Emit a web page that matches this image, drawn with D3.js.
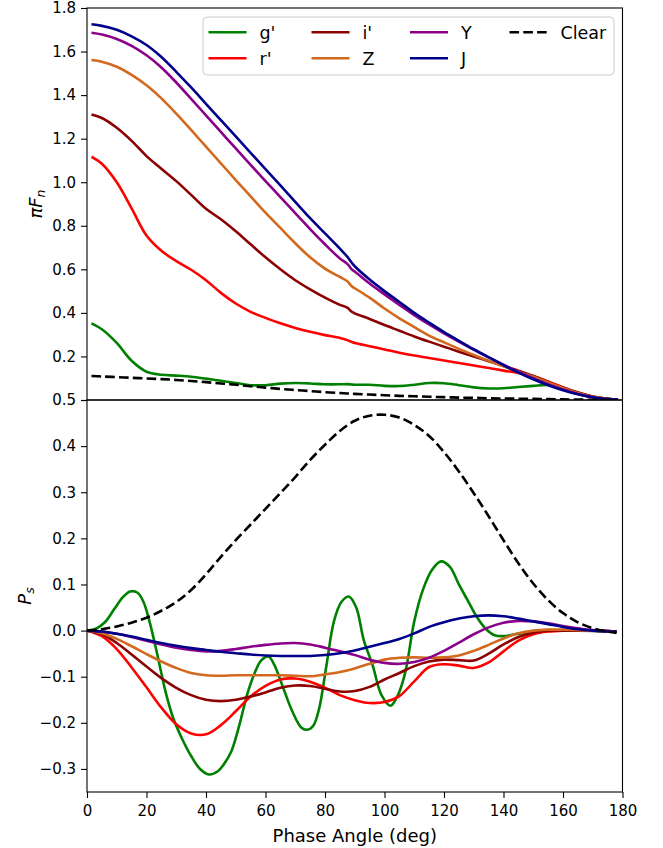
<!DOCTYPE html>
<html>
<head>
<meta charset="utf-8">
<script src="https://cdn.jsdelivr.net/npm/d3@7"></script>
<style>
  body { margin: 0; background: #fff; }
  text { font-family: "DejaVu Sans", sans-serif; fill: #000; }
</style>
</head>
<body>
<script>
// ---- data ----
const topPhase = [1.5,5,10,15,20,25,30,35,40,45,50,55,60,65,70,75,80,85,87.5,89,90,95,100,105,110,115,120,125,130,135,140,145,150,155,160,165,170,175,178.5];
const topG = [0.352,0.325,0.262,0.18,0.13,0.116,0.112,0.107,0.098,0.088,0.078,0.068,0.068,0.075,0.078,0.076,0.072,0.072,0.073,0.071,0.07,0.07,0.065,0.064,0.07,0.078,0.077,0.068,0.058,0.053,0.054,0.06,0.065,0.069,0.055,0.033,0.015,0.005,0.001];
const topR = [1.117,1.085,1.0,0.88,0.755,0.685,0.638,0.598,0.55,0.492,0.443,0.405,0.377,0.352,0.331,0.313,0.298,0.285,0.275,0.266,0.262,0.247,0.232,0.217,0.204,0.193,0.181,0.17,0.158,0.147,0.135,0.124,0.11,0.085,0.058,0.034,0.015,0.005,0.001];
const topI = [1.311,1.295,1.25,1.19,1.12,1.062,1.005,0.942,0.878,0.83,0.775,0.715,0.655,0.6,0.55,0.508,0.47,0.437,0.424,0.405,0.398,0.372,0.344,0.318,0.292,0.268,0.245,0.222,0.2,0.178,0.156,0.134,0.11,0.083,0.057,0.034,0.016,0.005,0.001];
const topZ = [1.561,1.553,1.53,1.493,1.445,1.385,1.315,1.24,1.163,1.087,1.01,0.935,0.86,0.79,0.72,0.655,0.603,0.565,0.545,0.522,0.513,0.47,0.42,0.375,0.335,0.296,0.265,0.235,0.207,0.18,0.155,0.13,0.107,0.08,0.055,0.032,0.015,0.005,0.001];
const topY = [1.686,1.678,1.658,1.626,1.583,1.527,1.458,1.383,1.307,1.231,1.155,1.08,1.005,0.932,0.858,0.785,0.715,0.65,0.625,0.6,0.59,0.535,0.485,0.437,0.39,0.347,0.306,0.268,0.231,0.196,0.162,0.13,0.1,0.072,0.048,0.028,0.013,0.004,0.001];
const topJ = [1.725,1.718,1.7,1.67,1.63,1.575,1.507,1.435,1.36,1.285,1.21,1.135,1.06,0.985,0.91,0.835,0.765,0.695,0.658,0.63,0.614,0.553,0.5,0.45,0.4,0.355,0.312,0.272,0.233,0.196,0.16,0.126,0.095,0.068,0.045,0.026,0.012,0.004,0.001];
const topClear = [0.11,0.108,0.105,0.102,0.099,0.096,0.092,0.087,0.082,0.076,0.07,0.063,0.057,0.051,0.046,0.041,0.036,0.032,0.03,0.029,0.028,0.025,0.022,0.019,0.017,0.015,0.013,0.011,0.01,0.008,0.007,0.006,0.005,0.004,0.003,0.002,0.001,0,0];

const botPhase = [0,5,10,15,20,25,30,35,40,45,50,55,60,65,70,75,80,85,90,95,100,105,110,115,120,125,130,135,140,145,150,155,160,165,170,175,178];
const botR = [0,-0.012,-0.04,-0.08,-0.123,-0.167,-0.203,-0.223,-0.225,-0.205,-0.175,-0.143,-0.12,-0.106,-0.104,-0.111,-0.124,-0.14,-0.151,-0.157,-0.155,-0.142,-0.11,-0.079,-0.073,-0.076,-0.081,-0.069,-0.045,-0.022,-0.008,-0.002,0,0,0,-0.001,-0.002];
const botI = [0,-0.008,-0.027,-0.052,-0.078,-0.103,-0.124,-0.14,-0.15,-0.153,-0.15,-0.143,-0.134,-0.124,-0.119,-0.12,-0.126,-0.132,-0.131,-0.122,-0.106,-0.092,-0.077,-0.067,-0.063,-0.064,-0.065,-0.05,-0.03,-0.014,-0.004,0,0,0,0,-0.001,-0.002];
const botZ = [0,-0.006,-0.018,-0.034,-0.051,-0.067,-0.081,-0.092,-0.097,-0.098,-0.097,-0.097,-0.097,-0.097,-0.098,-0.099,-0.095,-0.09,-0.082,-0.072,-0.063,-0.059,-0.058,-0.059,-0.058,-0.054,-0.044,-0.031,-0.017,-0.006,0,0.002,0.002,0.001,0,-0.001,-0.002];
const botY = [0,-0.002,-0.007,-0.014,-0.022,-0.03,-0.037,-0.042,-0.045,-0.044,-0.04,-0.035,-0.031,-0.028,-0.027,-0.03,-0.037,-0.045,-0.053,-0.063,-0.07,-0.072,-0.068,-0.059,-0.044,-0.026,-0.008,0.007,0.017,0.021,0.02,0.016,0.01,0.005,0.001,-0.001,-0.002];
const botJ = [0,-0.002,-0.007,-0.013,-0.02,-0.027,-0.033,-0.038,-0.042,-0.046,-0.049,-0.052,-0.054,-0.055,-0.055,-0.055,-0.053,-0.049,-0.043,-0.035,-0.027,-0.018,-0.006,0.008,0.018,0.026,0.031,0.033,0.031,0.026,0.02,0.014,0.008,0.003,0,-0.002,-0.002];
const botClear = [0,0.003,0.009,0.017,0.028,0.043,0.062,0.088,0.122,0.16,0.196,0.23,0.264,0.298,0.333,0.37,0.403,0.433,0.455,0.466,0.468,0.462,0.446,0.422,0.387,0.345,0.298,0.248,0.196,0.146,0.102,0.066,0.038,0.018,0.005,-0.002,-0.005];

// g' oscillates fast, so it gets its own phase grid
const botGPhase = [0,3,6,9,12,14.5,17,19,21,23.5,26.5,29,32,35,38,41,44,46,48.5,51,54,56.5,58.5,61,63,66,69,72,74,76,78,80.5,83,85.5,88,90.5,93,96,99,102,104.5,107,110,113,116,119,122,125,128,131,134,137,140,144,148,155,165,178];
const botG = [0,0.004,0.018,0.045,0.072,0.085,0.082,0.062,0.02,-0.048,-0.135,-0.19,-0.235,-0.272,-0.3,-0.312,-0.305,-0.29,-0.262,-0.21,-0.135,-0.09,-0.065,-0.056,-0.075,-0.125,-0.175,-0.21,-0.215,-0.207,-0.17,-0.075,0.02,0.062,0.074,0.05,-0.02,-0.075,-0.14,-0.163,-0.14,-0.09,0.02,0.09,0.132,0.15,0.138,0.1,0.065,0.03,0.004,-0.01,-0.012,-0.008,-0.004,0,0,-0.002];

const bandNames = ["g'", "r'", "i'", "Z", "Y", "J", "Clear"];
const bandColors = ["#008000", "#ff0000", "#8b0000", "#d2691e", "#8b008b", "#00008b", "#000000"];

const topTicks = [0, 0.2, 0.4, 0.6, 0.8, 1.0, 1.2, 1.4, 1.6, 1.8];
const botTicks = [-0.3, -0.2, -0.1, 0.0, 0.1, 0.2, 0.3, 0.4, 0.5];
const xTicks = [0, 20, 40, 60, 80, 100, 120, 140, 160, 180];

// ---- layout ----
const W = 663, H = 848;
const plotLeft = 87, plotRight = 622.5, plotTop = 8, plotMid = 400, plotBottom = 792;

const svg = d3.select("body").append("svg").attr("width", W).attr("height", H);

const x = d3.scaleLinear().domain([0, 180]).range([plotLeft, plotRight]);
const yTop = d3.scaleLinear().domain([0, 1.8]).range([plotMid, plotTop]);
const yBot = d3.scaleLinear().domain([-0.35, 0.5]).range([plotBottom, plotMid]);

const defs = svg.append("defs");
defs.append("clipPath").attr("id", "clipTop").append("rect")
    .attr("x", plotLeft).attr("y", plotTop).attr("width", plotRight - plotLeft).attr("height", plotMid - plotTop);
defs.append("clipPath").attr("id", "clipBot").append("rect")
    .attr("x", plotLeft).attr("y", plotMid).attr("width", plotRight - plotLeft).attr("height", plotBottom - plotMid);

const drawSeries = (g, phase, values, y, color, dashed) => {
    const line = d3.line()
        .x((d, i) => x(phase[i]))
        .y(d => y(d))
        .curve(d3.curveCatmullRom.alpha(0.5));
    g.append("path")
        .attr("d", line(values))
        .attr("fill", "none")
        .attr("stroke", color)
        .attr("stroke-width", 2.6)
        .attr("stroke-dasharray", dashed ? "9.6,4.2" : null);
};

// top panel
const gTop = svg.append("g").attr("clip-path", "url(#clipTop)");
const topSeries = [topG, topR, topI, topZ, topY, topJ, topClear];
topSeries.forEach((vals, k) => drawSeries(gTop, topPhase, vals, yTop, bandColors[k], k === 6));

// bottom panel
const gBot = svg.append("g").attr("clip-path", "url(#clipBot)");
const botSeries = [botG, botR, botI, botZ, botY, botJ, botClear];
botSeries.forEach((vals, k) => {
    const phase = k === 0 ? botGPhase : botPhase;
    drawSeries(gBot, phase, vals, yBot, bandColors[k], k === 6);
});

// frames
[[plotTop, plotMid], [plotMid, plotBottom]].forEach(([a, b]) => {
    svg.append("rect")
        .attr("x", plotLeft).attr("y", a).attr("width", plotRight - plotLeft).attr("height", b - a)
        .attr("fill", "none").attr("stroke", "#000").attr("stroke-width", 1.1);
});

// axes
const styleAxis = (g) => {
    g.select(".domain").remove();
    g.selectAll(".tick line").attr("stroke", "#000").attr("stroke-width", 1.1);
    g.selectAll(".tick text").style("font-size", "15px").style("font-family", "DejaVu Sans");
};

svg.append("g").attr("transform", `translate(${plotLeft},0)`)
    .call(d3.axisLeft(yTop).tickValues(topTicks).tickSize(6).tickPadding(5)
        .tickFormat(d => d === 0 ? "" : d3.format(".1f")(d)))
    .call(styleAxis);

svg.append("g").attr("transform", `translate(${plotLeft},0)`)
    .call(d3.axisLeft(yBot).tickValues(botTicks).tickSize(6).tickPadding(5)
        .tickFormat(d3.format(".1f")))
    .call(styleAxis);

svg.append("g").attr("transform", `translate(0,${plotBottom})`)
    .call(d3.axisBottom(x).tickValues(xTicks).tickSize(6).tickPadding(7)
        .tickFormat(d3.format("d")))
    .call(styleAxis);

// axis labels
svg.append("text")
    .attr("x", (plotLeft + plotRight) / 2).attr("y", 842)
    .attr("text-anchor", "middle").style("font-size", "18px")
    .text("Phase Angle (deg)");

const yl1 = svg.append("text")
    .attr("transform", `translate(42,${(plotTop + plotMid) / 2}) rotate(-90)`)
    .attr("text-anchor", "middle").style("font-size", "18px").style("font-style", "italic");
yl1.append("tspan").text("\u03c0F");
yl1.append("tspan").attr("dy", "0.25em").style("font-size", "12.5px").text("n");

const yl2 = svg.append("text")
    .attr("transform", `translate(30.5,${(plotMid + plotBottom) / 2}) rotate(-90)`)
    .attr("text-anchor", "middle").style("font-size", "18px").style("font-style", "italic");
yl2.append("tspan").text("P");
yl2.append("tspan").attr("dy", "0.25em").style("font-size", "12.5px").text("s");

// legend (4 columns, column-major)
const legend = svg.append("g");
legend.append("rect")
    .attr("x", 203).attr("y", 17).attr("width", 411).attr("height", 58).attr("rx", 4)
    .attr("fill", "#fff").attr("fill-opacity", 0.8)
    .attr("stroke", "#cccccc").attr("stroke-width", 1);

const colX = [208.5, 311.5, 410, 509.5];
const rowY = [32.3, 58.3];
bandNames.forEach((name, k) => {
    const col = Math.floor(k / 2), row = k % 2;
    const lx = colX[col], ly = rowY[row];
    legend.append("line")
        .attr("x1", lx).attr("x2", lx + 38).attr("y1", ly).attr("y2", ly)
        .attr("stroke", bandColors[k]).attr("stroke-width", 2.6)
        .attr("stroke-dasharray", k === 6 ? "9.6,4.2" : null);
    legend.append("text")
        .attr("x", lx + 51).attr("y", ly + 6.2)
        .style("font-size", "17.5px")
        .text(name);
});
</script>
</body>
</html>
